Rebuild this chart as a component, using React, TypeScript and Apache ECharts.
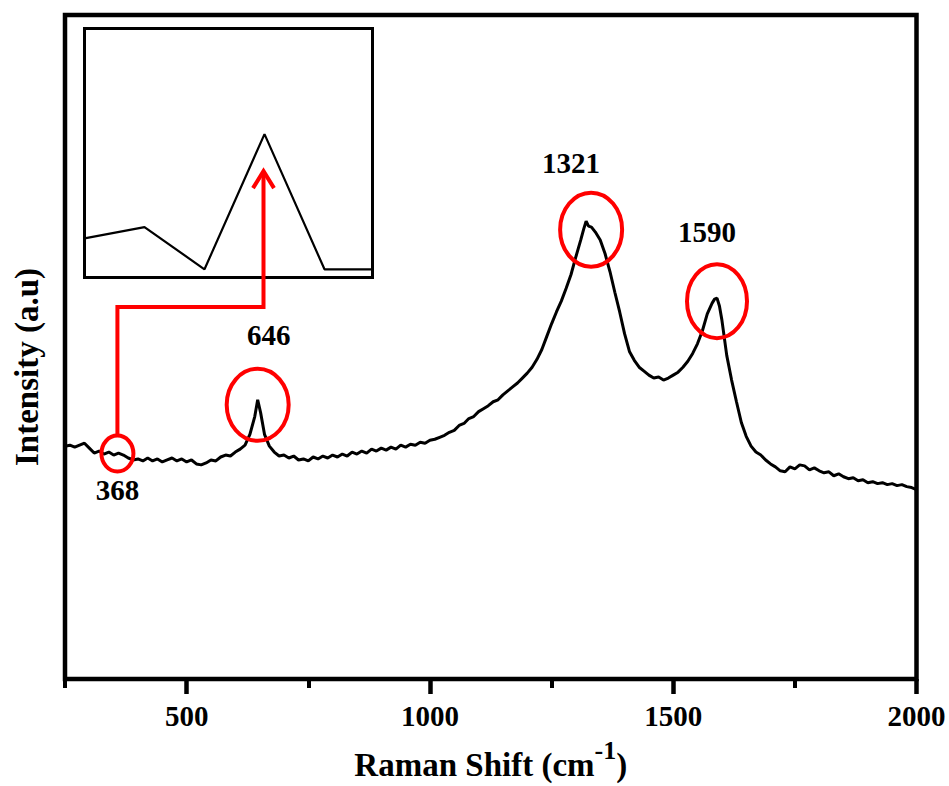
import React, { useEffect, useRef } from 'react';
import * as echarts from 'echarts';

const FONT = '"Liberation Serif", "Times New Roman", serif';

// Raman spectrum (arbitrary intensity units)
const shift = [
  250, 260, 270, 280, 290, 300, 310, 320, 330, 340, 350, 360, 370, 380, 390, 400, 410, 420, 430, 440,
  450, 460, 470, 480, 490, 500, 510, 520, 530, 540, 550, 560, 570, 580, 590, 600, 610, 620, 630, 640,
  646, 652, 660, 670, 680, 690, 700, 710, 720, 730, 740, 750, 760, 770, 780, 790, 800, 810, 820, 830,
  840, 850, 860, 870, 880, 890, 900, 910, 920, 930, 940, 950, 960, 970, 980, 990, 1000, 1010, 1020, 1030,
  1040, 1050, 1060, 1070, 1080, 1090, 1100, 1110, 1120, 1130, 1140, 1150, 1160, 1170, 1180, 1190, 1200, 1210, 1220, 1230,
  1240, 1250, 1260, 1270, 1280, 1290, 1300, 1310, 1316, 1321, 1326, 1332, 1340, 1350, 1360, 1370, 1380, 1390, 1400, 1410,
  1420, 1430, 1440, 1450, 1460, 1470, 1480, 1490, 1500, 1510, 1520, 1530, 1540, 1550, 1560, 1570, 1580, 1585, 1590, 1595,
  1600, 1610, 1620, 1630, 1640, 1650, 1660, 1670, 1680, 1690, 1700, 1710, 1720, 1730, 1740, 1750, 1760, 1770, 1780, 1790,
  1800, 1810, 1820, 1830, 1840, 1850, 1860, 1870, 1880, 1890, 1900, 1910, 1920, 1930, 1940, 1950, 1960, 1970, 1980, 1990,
  2000,
];
const intensity = [
  236, 237, 235, 237, 239, 234, 229, 231, 228, 230, 227, 229, 227, 224, 222, 223, 221, 224, 221, 223,
  220, 222, 224, 221, 223, 220, 222, 218, 217, 219, 222, 221, 225, 227, 226, 230, 233, 237, 248, 266,
  283, 270, 248, 236, 230, 226, 227, 224, 226, 222, 223, 221, 225, 223, 226, 224, 227, 225, 228, 226,
  230, 228, 231, 229, 233, 231, 234, 232, 235, 233, 237, 235, 238, 237, 240, 239, 242, 243, 245, 247,
  250, 252, 257, 259, 264, 266, 271, 274, 277, 281, 283, 288, 292, 296, 300, 305, 310, 316, 324, 334,
  347, 360, 372, 383, 396, 410, 428, 445, 456, 464, 459, 458, 453, 445, 431, 413, 392, 372, 350, 332,
  323, 316, 312, 308, 305, 306, 303, 305, 308, 311, 316, 322, 330, 340, 353, 370, 381, 385, 386, 378,
  364, 328, 303, 281, 260, 246, 236, 230, 227, 222, 218, 215, 211, 210, 215, 213, 217, 216, 212, 214,
  211, 209, 210, 206, 208, 205, 203, 204, 201, 202, 199, 200, 198, 199, 197, 198, 196, 197, 195, 194,
  192,
];

// Inset: zoom around the 368 cm-1 band
const insetX = [0, 1, 2, 3, 4, 4.8];
const insetY = [1.57, 2.02, 0.33, 5.76, 0.33, 0.33];

// Axis ticks
const majorTicks = [500, 1000, 1500, 2000];
const minorTicks = [250, 750, 1250, 1750];

// Peak annotations
const peakShift = [368, 646, 1321, 1590];
const peakLabel = ['368', '646', '1321', '1590'];

export default function App() {
  const ref = useRef<HTMLDivElement>(null);
  useEffect(() => {
    document.body.style.margin = '0';
    const chart = echarts.init(ref.current!, null, { renderer: 'svg' });
    const textStyle = { fontFamily: FONT, fontWeight: 'bold' as const, color: '#000' };
    chart.setOption({
      animation: false,
      backgroundColor: '#ffffff',
      grid: [
        { left: 65, top: 15, width: 851.5, height: 673, show: true, borderColor: '#000', borderWidth: 4.5, backgroundColor: 'transparent' },
        { left: 84.5, top: 28.5, width: 288, height: 249, show: true, borderColor: '#000', borderWidth: 3, backgroundColor: '#fff' },
      ],
      xAxis: [
        {
          type: 'value', gridIndex: 0, min: 250, max: 2000, position: 'bottom',
          axisLine: { show: false }, splitLine: { show: false },
          axisTick: { show: true, customValues: majorTicks, length: 15, lineStyle: { width: 4.5, color: '#000' } },
          axisLabel: { customValues: majorTicks, fontSize: 29, margin: 22, formatter: (v: number) => String(v), ...textStyle },
          name: '{a|Raman Shift (cm}{s|-1}{a|)}',
          nameLocation: 'middle', nameGap: 58,
          nameTextStyle: {
            rich: {
              a: { fontSize: 33, fontFamily: FONT, fontWeight: 'bold', color: '#000', verticalAlign: 'bottom', lineHeight: 44 },
              s: { fontSize: 26, fontFamily: FONT, fontWeight: 'bold', color: '#000', verticalAlign: 'top', lineHeight: 26 },
            },
          },
        },
        {
          type: 'value', gridIndex: 0, min: 250, max: 2000, position: 'bottom', offset: 0,
          axisLine: { show: false }, splitLine: { show: false },
          axisTick: { show: true, customValues: minorTicks, length: 9, lineStyle: { width: 4, color: '#000' } },
          axisLabel: { show: false },
        },
        { type: 'value', gridIndex: 1, min: 0, max: 4.8, show: false },
      ],
      yAxis: [
        {
          type: 'value', gridIndex: 0, min: 0, max: 673,
          axisLine: { show: false }, axisTick: { show: false }, axisLabel: { show: false }, splitLine: { show: false },
          name: 'Intensity (a.u)', nameLocation: 'middle', nameGap: 22, nameRotate: 90,
          nameTextStyle: { fontSize: 33, padding: [0, 40, 0, 0], ...textStyle },
        },
        { type: 'value', gridIndex: 1, min: 0, max: 10, show: false },
      ],
      series: [
        {
          type: 'line', xAxisIndex: 0, yAxisIndex: 0, symbol: 'none',
          data: shift.map((s, i) => [s, intensity[i]]),
          lineStyle: { color: '#000', width: 3 }, z: 3,
        },
        {
          type: 'line', xAxisIndex: 2, yAxisIndex: 1, symbol: 'none',
          data: insetX.map((x, i) => [x, insetY[i]]),
          lineStyle: { color: '#000', width: 2.2 }, z: 3,
        },
      ],
    });

    // annotation placement relative to peaks
    const offsets = [[-5, -1.5], [0, 5], [5, 8.5], [0, 3]];
    const radii = [[16, 18], [31, 36], [31, 37], [30, 37]];
    const labelOffsets = [[0, 36], [11, -70], [-20, -67], [-10, -69]];
    const nearest = (s: number) => {
      let best = 0;
      shift.forEach((v, i) => { if (Math.abs(v - s) < Math.abs(shift[best] - s)) best = i; });
      return intensity[best];
    };
    const graphic: any[] = [];
    const centers: number[][] = [];
    peakShift.forEach((p, i) => {
      const pt = chart.convertToPixel({ gridIndex: 0 }, [p, nearest(p)]) as number[];
      const cx = pt[0] + offsets[i][0];
      const cy = pt[1] + offsets[i][1];
      centers.push([cx, cy]);
      graphic.push({
        type: 'ellipse', z: 10,
        shape: { cx, cy, rx: radii[i][0], ry: radii[i][1] },
        style: { fill: 'none', stroke: '#ff0000', lineWidth: 4 },
      });
      graphic.push({
        type: 'text', z: 10, x: cx + labelOffsets[i][0], y: cy + labelOffsets[i][1],
        style: { text: peakLabel[i], font: `bold 29px ${FONT}`, fill: '#000', align: 'center', verticalAlign: 'middle' },
      });
    });
    const tip = chart.convertToPixel({ gridIndex: 1 }, [insetX[3], insetY[3]]) as number[];
    const ax = tip[0] - 1;
    const startY = centers[0][1] - radii[0][1];
    graphic.push({
      type: 'polyline', z: 11,
      shape: { points: [[centers[0][0], startY], [centers[0][0], 307], [ax, 307], [ax, tip[1] + 38]] },
      style: { fill: 'none', stroke: '#ff0000', lineWidth: 4 },
    });
    graphic.push({
      type: 'polyline', z: 11,
      shape: { points: [[ax - 10.5, tip[1] + 54], [ax, tip[1] + 37], [ax + 10.5, tip[1] + 54]] },
      style: { fill: 'none', stroke: '#ff0000', lineWidth: 4 },
    });
    chart.setOption({ graphic });
    return () => chart.dispose();
  }, []);
  return <div ref={ref} style={{ width: 949, height: 786 }} />;
}
